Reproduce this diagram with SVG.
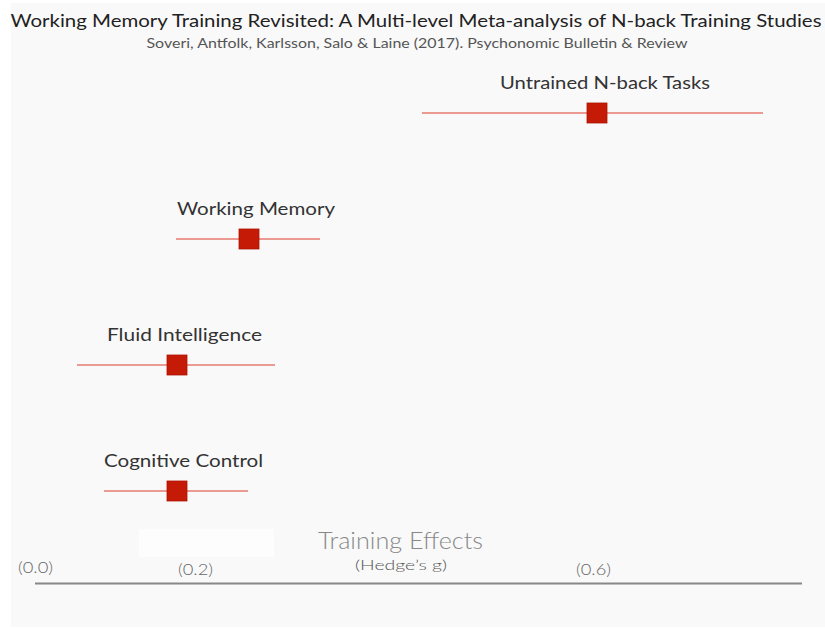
<svg xmlns="http://www.w3.org/2000/svg" width="825" height="628" viewBox="0 0 825 628">
<style>
text{font-family:Lato,"Noto Sans","DejaVu Sans",sans-serif;text-anchor:middle}
.t{font-size:18px;fill:#222}
.s{font-size:13px;fill:#555}
.lbl{font-size:17.5px;fill:#333}
.ci{stroke:#e57a6e;stroke-width:1.6;fill:none}
.pt{fill:#c41a06;stroke:#b01505;stroke-width:0.8}
.tick{font-size:15.5px;fill:#666;font-weight:300}
.axt{font-size:24px;fill:#888;font-weight:300}
.axs{font-size:14.5px;fill:#555;font-weight:300}
</style>
<rect x="0" y="0" width="825" height="628" fill="#ffffff"/>
<rect x="11" y="3" width="814" height="624" fill="#f9f9f9"/>
<rect x="139" y="529" width="135" height="28" fill="#fdfdfd"/>
<text class="t" x="416" y="27" textLength="811" lengthAdjust="spacingAndGlyphs">Working Memory Training Revisited: A Multi-level Meta-analysis of N-back Training Studies</text>
<text class="s" x="417" y="48" textLength="541" lengthAdjust="spacingAndGlyphs">Soveri, Antfolk, Karlsson, Salo &amp; Laine (2017). Psychonomic Bulletin &amp; Review</text>
<g id="connectors">
<line class="ci" x1="422" y1="113" x2="763" y2="113"/>
<line class="ci" x1="176" y1="239" x2="320" y2="239"/>
<line class="ci" x1="77" y1="365" x2="275" y2="365"/>
<line class="ci" x1="104" y1="491" x2="248" y2="491"/>
</g>
<g id="untrained">
<text class="lbl" x="605" y="89" textLength="210" lengthAdjust="spacingAndGlyphs">Untrained N-back Tasks</text>
<rect class="pt" x="587" y="103" width="20" height="20"/>
</g>
<g id="working-memory">
<text class="lbl" x="256" y="215" textLength="158" lengthAdjust="spacingAndGlyphs">Working Memory</text>
<rect class="pt" x="239" y="229" width="20" height="20"/>
</g>
<g id="fluid-intelligence">
<text class="lbl" x="184.5" y="341" textLength="155" lengthAdjust="spacingAndGlyphs">Fluid Intelligence</text>
<rect class="pt" x="167" y="355" width="20" height="20"/>
</g>
<g id="cognitive-control">
<text class="lbl" x="183.5" y="467" textLength="159" lengthAdjust="spacingAndGlyphs">Cognitive Control</text>
<rect class="pt" x="167" y="481" width="20" height="20"/>
</g>
<g id="axis">
<text class="axt" x="400.5" y="549" textLength="165" lengthAdjust="spacingAndGlyphs">Training Effects</text>
<text class="axs" x="401" y="570" textLength="92" lengthAdjust="spacingAndGlyphs">(Hedge’s g)</text>
<text class="tick" x="35.5" y="573" textLength="35" lengthAdjust="spacingAndGlyphs">(0.0)</text>
<text class="tick" x="195.5" y="575" textLength="35" lengthAdjust="spacingAndGlyphs">(0.2)</text>
<text class="tick" x="593.5" y="575" textLength="35" lengthAdjust="spacingAndGlyphs">(0.6)</text>
<line x1="35" y1="583.5" x2="802" y2="583.5" stroke="#888" stroke-width="2"/>
</g>
</svg>
